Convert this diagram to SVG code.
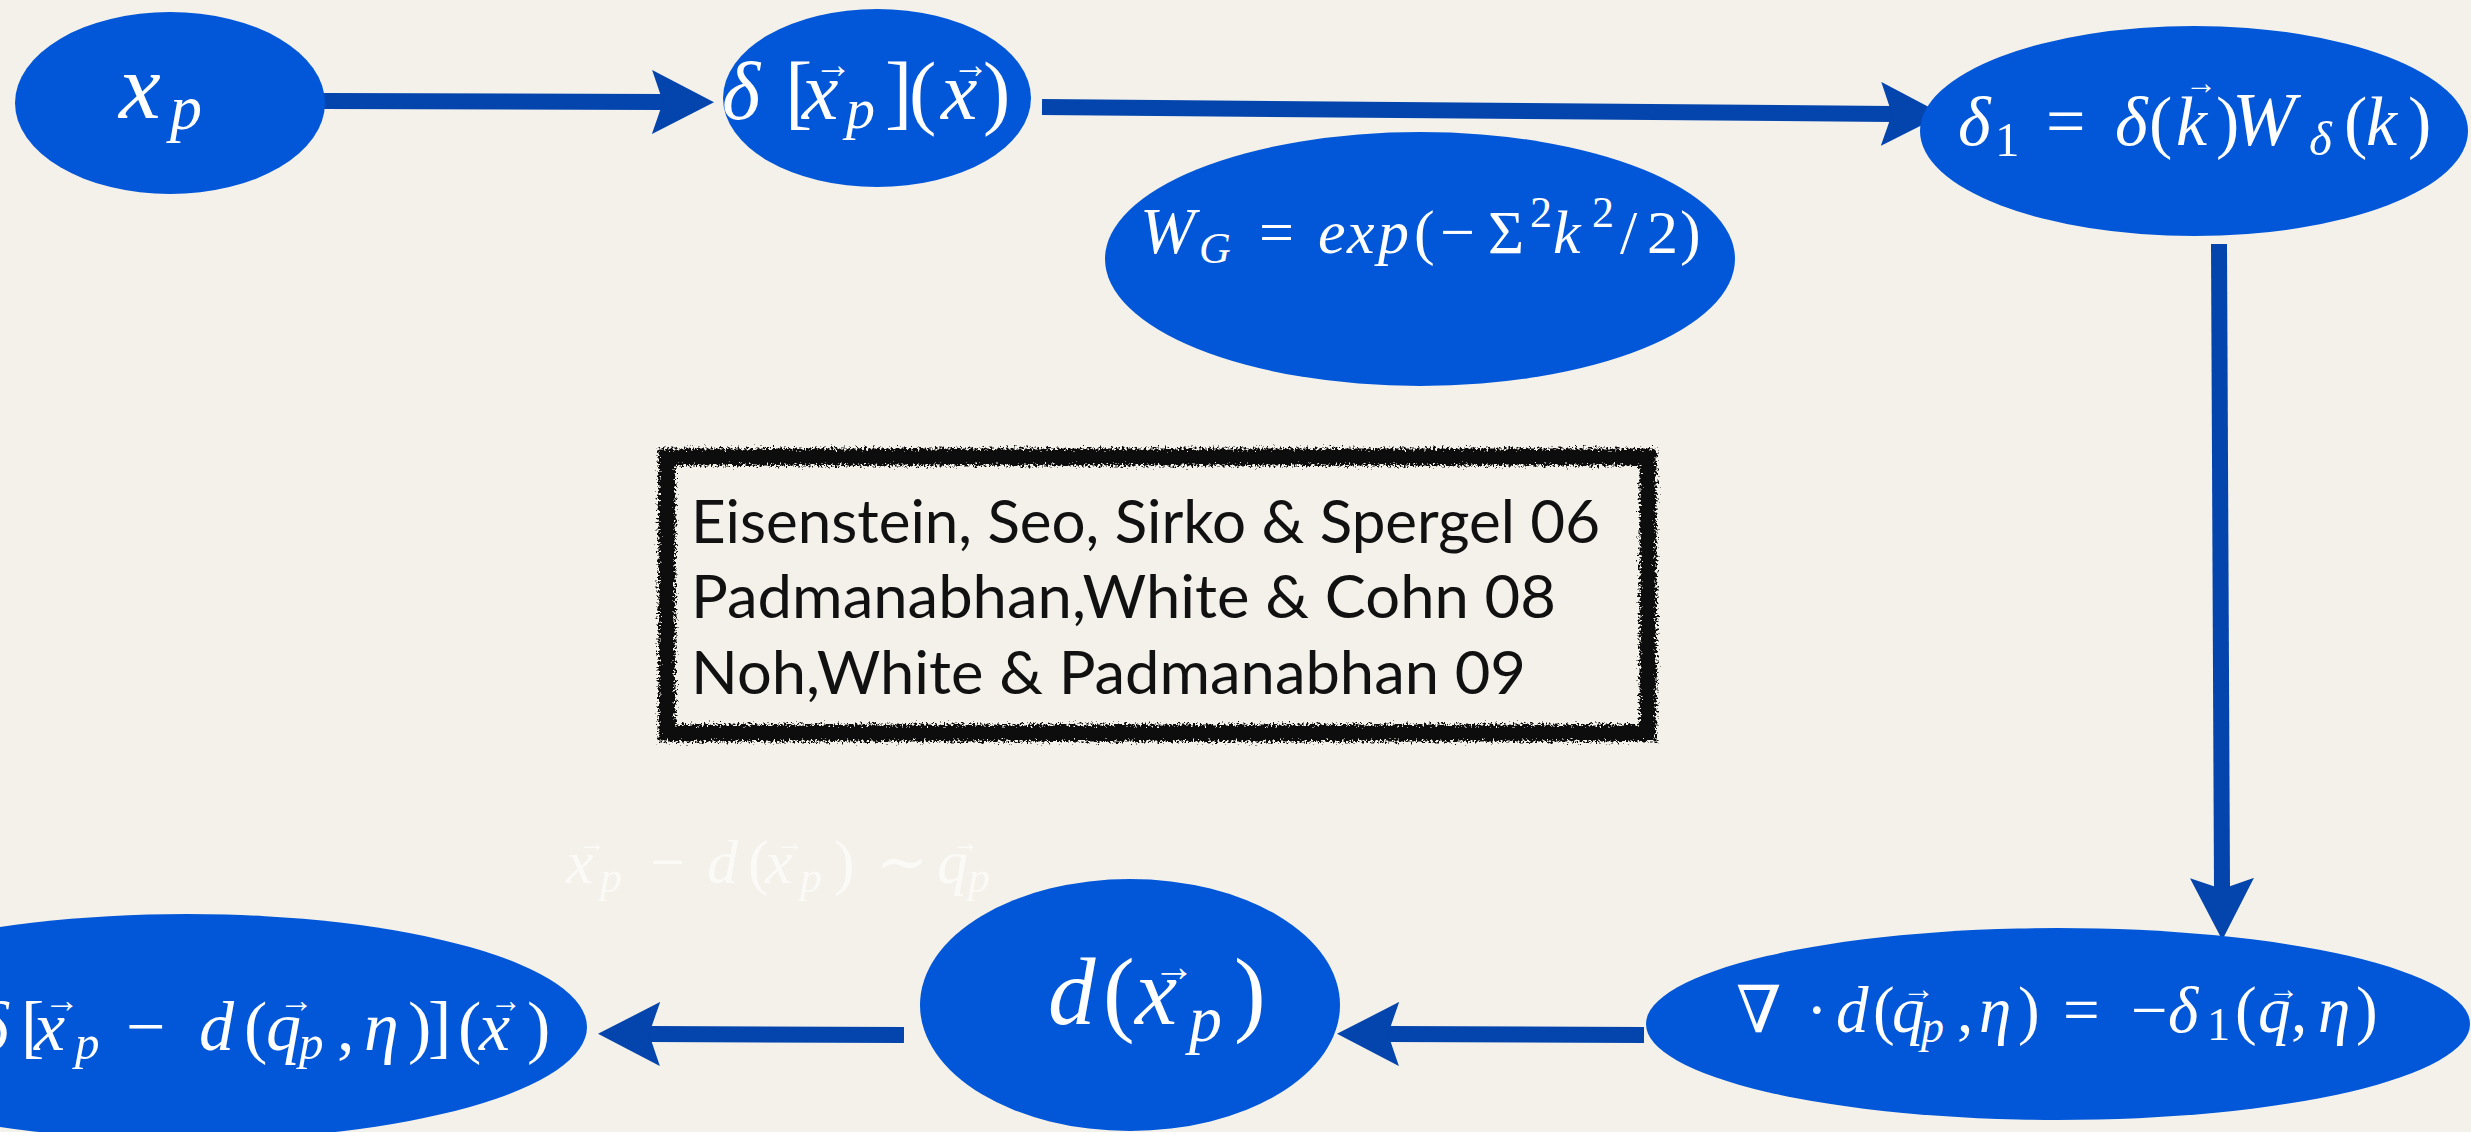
<svg xmlns="http://www.w3.org/2000/svg" width="2471" height="1132" viewBox="0 0 2471 1132">
<defs>
<style>
.bg{fill:#f4f1ea}
.node{fill:#0257d8}
.m{font-family:"Liberation Serif","DejaVu Serif",serif;fill:#ffffff}
.i{font-style:italic}
.faint{fill:#fbfaf6}
.cit{font-family:Lato,"Open Sans","Liberation Sans",sans-serif;font-size:60px;fill:#111111}
.conn{fill:none;stroke:#0344ad;stroke-width:16;stroke-linecap:butt;marker-end:url(#ah)}
</style>
<marker id="ah" markerUnits="userSpaceOnUse" markerWidth="62" markerHeight="64" viewBox="0 0 62 64" refX="11" refY="32" orient="auto">
<path d="M0,0 L62,32 L0,64 L11,32 Z" fill="#0344ad"/>
</marker>
<filter id="rough" x="-5%" y="-10%" width="110%" height="120%">
<feTurbulence type="fractalNoise" baseFrequency="0.45" numOctaves="3" seed="7" result="n"/>
<feDisplacementMap in="SourceGraphic" in2="n" scale="12" xChannelSelector="R" yChannelSelector="G"/>
</filter>
</defs>
<rect class="bg" x="0" y="0" width="2471" height="1132"/>

<g id="connectors">
<path class="conn" d="M324,101 L663,102"/>
<path class="conn" d="M1042,107 L1892,114"/>
<path class="conn" d="M2219,244 L2222,889"/>
<path class="conn" d="M1644,1035 L1388,1034"/>
<path class="conn" d="M904,1035 L649,1034"/>
</g>

<g id="node-xp">
<ellipse class="node" cx="170" cy="103" rx="155" ry="91"/>
<text class="m" font-size="94"><tspan class="i" x="119" y="118">x</tspan><tspan class="i" x="170" y="129" font-size="64">p</tspan></text>
</g>

<g id="node-delta-xp">
<ellipse class="node" cx="877" cy="98" rx="154" ry="89"/>
<text class="m" font-size="82"><tspan class="i" x="722" y="119">δ</tspan><tspan x="785" y="119">[</tspan><tspan class="i" x="802" y="119">x</tspan><tspan x="814" y="78" font-size="40" textLength="38" lengthAdjust="spacingAndGlyphs">→</tspan><tspan class="i" x="846" y="128" font-size="58">p</tspan><tspan x="885" y="119">]</tspan><tspan x="909" y="119">(</tspan><tspan class="i" x="941" y="119">x</tspan><tspan x="952" y="78" font-size="40" textLength="37" lengthAdjust="spacingAndGlyphs">→</tspan><tspan x="983" y="119">)</tspan></text>
</g>

<g id="node-delta1">
<ellipse class="node" cx="2194" cy="131" rx="274" ry="105"/>
<text class="m" font-size="70"><tspan class="i" x="1958" y="145">δ</tspan><tspan x="1995" y="156" font-size="49">1</tspan><tspan x="2046" y="145">=</tspan><tspan class="i" x="2115" y="145">δ</tspan><tspan x="2149" y="145">(</tspan><tspan class="i" x="2176" y="145">k</tspan><tspan x="2185" y="94" font-size="34" textLength="32" lengthAdjust="spacingAndGlyphs">→</tspan><tspan x="2216" y="145">)</tspan><tspan class="i" x="2232" y="145" font-size="76">W</tspan><tspan class="i" x="2309" y="155" font-size="49">δ</tspan><tspan x="2344" y="145">(</tspan><tspan class="i" x="2366" y="145">k</tspan><tspan x="2408" y="145">)</tspan></text>
</g>

<g id="node-wg">
<ellipse class="node" cx="1420" cy="259" rx="315" ry="127"/>
<text class="m" font-size="62"><tspan class="i" x="1140" y="253" font-size="66">W</tspan><tspan class="i" x="1199" y="263" font-size="44">G</tspan><tspan x="1259" y="253">=</tspan><tspan class="i" x="1318" y="253">e</tspan><tspan class="i" x="1347" y="253">x</tspan><tspan class="i" x="1378" y="253">p</tspan><tspan x="1414" y="253">(</tspan><tspan x="1440" y="253">−</tspan><tspan x="1488" y="253">Σ</tspan><tspan x="1530" y="227" font-size="44">2</tspan><tspan class="i" x="1553" y="253">k</tspan><tspan x="1592" y="227" font-size="44">2</tspan><tspan x="1620" y="253">/</tspan><tspan x="1647" y="253">2</tspan><tspan x="1680" y="253">)</tspan></text>
</g>

<g id="references">
<g filter="url(#rough)">
<rect x="667" y="457" width="981" height="276" fill="none" stroke="#111111" stroke-width="17"/>
</g>
<text class="cit" x="691" y="543" textLength="909" lengthAdjust="spacingAndGlyphs">Eisenstein, Seo, Sirko &amp; Spergel 06</text>
<text class="cit" x="691" y="618" textLength="865" lengthAdjust="spacingAndGlyphs">Padmanabhan,White &amp; Cohn 08</text>
<text class="cit" x="691" y="694" textLength="835" lengthAdjust="spacingAndGlyphs">Noh,White &amp; Padmanabhan 09</text>
</g>

<g id="note-faint">
<text class="m faint" font-size="62"><tspan class="i" x="566" y="883">x</tspan><tspan x="578" y="852" font-size="30" textLength="28" lengthAdjust="spacingAndGlyphs">→</tspan><tspan class="i" x="600" y="892" font-size="44">p</tspan><tspan x="650" y="883">−</tspan><tspan class="i" x="707" y="883">d</tspan><tspan x="748" y="883">(</tspan><tspan class="i" x="765" y="883">x</tspan><tspan x="776" y="852" font-size="30" textLength="28" lengthAdjust="spacingAndGlyphs">→</tspan><tspan class="i" x="800" y="892" font-size="44">p</tspan><tspan x="834" y="883">)</tspan><tspan x="876" y="883">∼</tspan><tspan class="i" x="937" y="883">q</tspan><tspan x="952" y="852" font-size="30" textLength="27" lengthAdjust="spacingAndGlyphs">→</tspan><tspan class="i" x="968" y="892" font-size="44">p</tspan></text>
</g>

<g id="node-delta-shift">
<ellipse class="node" cx="187" cy="1027" rx="400" ry="113"/>
<text class="m" font-size="70"><tspan class="i" x="-24" y="1050">δ</tspan><tspan x="21" y="1050">[</tspan><tspan class="i" x="34" y="1050">x</tspan><tspan x="44" y="1012" font-size="36" textLength="36" lengthAdjust="spacingAndGlyphs">→</tspan><tspan class="i" x="75" y="1059" font-size="49">p</tspan><tspan x="126" y="1050">−</tspan><tspan class="i" x="199" y="1050">d</tspan><tspan x="244" y="1050">(</tspan><tspan class="i" x="266" y="1050">q</tspan><tspan x="279" y="1012" font-size="36" textLength="35" lengthAdjust="spacingAndGlyphs">→</tspan><tspan class="i" x="299" y="1059" font-size="49">p</tspan><tspan x="337" y="1050">,</tspan><tspan class="i" x="364" y="1050">η</tspan><tspan x="408" y="1050">)</tspan><tspan x="428" y="1050">]</tspan><tspan x="458" y="1050">(</tspan><tspan class="i" x="479" y="1050">x</tspan><tspan x="490" y="1012" font-size="36" textLength="32" lengthAdjust="spacingAndGlyphs">→</tspan><tspan x="527" y="1050">)</tspan></text>
</g>

<g id="node-d">
<ellipse class="node" cx="1130" cy="1005" rx="210" ry="126"/>
<text class="m" font-size="95"><tspan class="i" x="1048" y="1024">d</tspan><tspan x="1103" y="1024">(</tspan><tspan class="i" x="1135" y="1024">x</tspan><tspan x="1153" y="981" font-size="44" textLength="42" lengthAdjust="spacingAndGlyphs">→</tspan><tspan class="i" x="1189" y="1041" font-size="66">p</tspan><tspan x="1234" y="1024">)</tspan></text>
</g>

<g id="node-div">
<ellipse class="node" cx="2058" cy="1024" rx="412" ry="96"/>
<text class="m" font-size="65"><tspan x="1736" y="1032" font-family="DejaVu Serif, serif">∇</tspan><tspan x="1806" y="1032">·</tspan><tspan class="i" x="1836" y="1032">d</tspan><tspan x="1873" y="1032">(</tspan><tspan class="i" x="1892" y="1032">q</tspan><tspan x="1902" y="1000" font-size="34" textLength="33" lengthAdjust="spacingAndGlyphs">→</tspan><tspan class="i" x="1921" y="1042" font-size="46">p</tspan><tspan x="1957" y="1032">,</tspan><tspan class="i" x="1979" y="1032">η</tspan><tspan x="2018" y="1032">)</tspan><tspan x="2063" y="1032">=</tspan><tspan x="2131" y="1032">−</tspan><tspan class="i" x="2168" y="1032">δ</tspan><tspan x="2207" y="1040" font-size="46">1</tspan><tspan x="2235" y="1032">(</tspan><tspan class="i" x="2258" y="1032">q</tspan><tspan x="2268" y="1000" font-size="34" textLength="31" lengthAdjust="spacingAndGlyphs">→</tspan><tspan x="2291" y="1032">,</tspan><tspan class="i" x="2318" y="1032">η</tspan><tspan x="2356" y="1032">)</tspan></text>
</g>
</svg>
